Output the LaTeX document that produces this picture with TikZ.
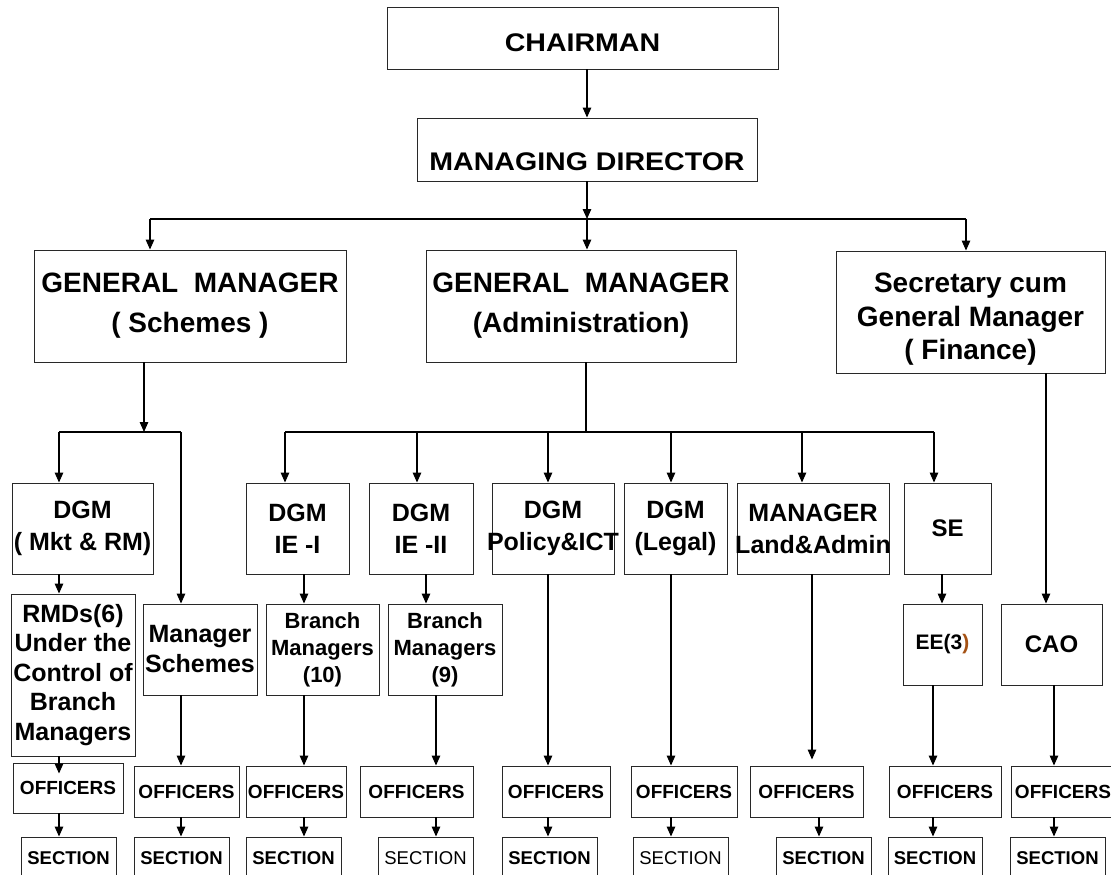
\documentclass[tikz,border=0pt]{standalone}
\usepackage{fontspec}
\setmainfont{Liberation Sans}
\newfontfamily\topfont{Liberation Sans}[FakeStretch=1.12]
\usetikzlibrary{arrows.meta}
\definecolor{eebrown}{RGB}{165,82,20}
\definecolor{boxgray}{RGB}{40,40,40}
\begin{document}
\begin{tikzpicture}[x=1pt,y=-1pt,
  box/.style={draw=boxgray, line width=0.9pt, inner sep=1pt, align=center, anchor=center},
  topf/.style={font=\topfont\bfseries\fontsize{25.5}{30}\selectfont},
  gmf/.style={font=\bfseries\fontsize{28}{40}\selectfont},
  secf/.style={font=\bfseries\fontsize{28}{33.5}\selectfont},
  dgmf/.style={font=\bfseries\fontsize{25}{32}\selectfont},
  rmdf/.style={font=\bfseries\fontsize{25}{29.5}\selectfont},
  mschf/.style={font=\bfseries\fontsize{25}{30}\selectfont},
  bmf/.style={font=\bfseries\fontsize{22}{27}\selectfont},
  offf/.style={font=\bfseries\fontsize{19}{22}\selectfont},
  sectf/.style={font=\bfseries\fontsize{18.5}{22}\selectfont},
  sectr/.style={font=\fontsize{18.5}{22}\selectfont},
  conn/.style={line width=1.3pt},
  arr/.style={conn, -{Triangle[length=10pt,width=8.5pt]}},
  dgmbox/.style={box, dgmf, minimum height=91pt},
  offbox/.style={box, offf, minimum height=51pt},
  sectbox/.style={box, minimum height=42pt},
]
\useasboundingbox (0,0) rectangle (1111,875);
\clip (0,0) rectangle (1111,875);

% top
\node[box, topf, minimum width=391pt, minimum height=62pt, text height=26.3pt, text depth=0pt] (chair) at (582.5,38) {CHAIRMAN};
\node[box, topf, minimum width=340pt, minimum height=63pt, text height=42pt, text depth=0pt] (md) at (587,149.5) {MANAGING DIRECTOR};

% general managers
\node[box, gmf, minimum width=312pt, minimum height=112pt] (gms) at (190,306) {GENERAL\ \ MANAGER\\(\ Schemes\ )};
\node[box, gmf, minimum width=310pt, minimum height=112pt] (gma) at (581,306) {GENERAL\ \ MANAGER\\(Administration)};
\node[box, secf, minimum width=269pt, minimum height=122pt] (sec) at (970.5,312) {\rule{0pt}{34pt}Secretary cum\\General Manager\\(\ Finance)};

% DGM level
\node[dgmbox, minimum width=141pt] (dgm1) at (82.5,528.5) {DGM\\(\ Mkt \& RM)};
\node[dgmbox, minimum width=103pt] (dgm2) at (297.5,528.5) {DGM\\IE -I};
\node[dgmbox, minimum width=104pt] (dgm3) at (421,528.5) {DGM\\IE -II};
\node[dgmbox, minimum width=122pt] (dgm4) at (553,528.5) {DGM\\\makebox[110pt][c]{Policy\&ICT}};
\node[dgmbox, minimum width=103pt] (dgm5) at (675.5,528.5) {DGM\\(Legal)};
\node[dgmbox, minimum width=152pt] (mgr) at (813,528.5) {MANAGER\\\makebox[140pt][c]{Land\&Admin}};
\node[dgmbox, minimum width=87pt, font=\bfseries\fontsize{24}{30}\selectfont] (se) at (947.5,528.5) {SE};

% third level
\node[box, rmdf, minimum width=124pt, minimum height=162pt] (rmd) at (73,675) {RMDs(6)\\Under the\\Control of\\Branch\\Managers};
\node[box, mschf, minimum width=114pt, minimum height=91pt] (msch) at (200,649.5) {Manager\\Schemes};
\node[box, bmf, minimum width=113pt, minimum height=91pt] (bm10) at (322.5,649.5) {Branch\\Managers\\(10)};
\node[box, bmf, minimum width=114pt, minimum height=91pt] (bm9) at (445,649.5) {Branch\\Managers\\(9)};
\node[box, font=\bfseries\fontsize{21}{25}\selectfont, minimum width=79pt, minimum height=81pt] (ee) at (942.5,644.5) {EE(3{\color{eebrown})}};
\node[box, font=\bfseries\fontsize{24}{28}\selectfont, minimum width=101pt, minimum height=81pt] (cao) at (1051.5,644.5) {CAO};

% officers
\node[offbox, minimum width=110pt, minimum height=50pt] (o1) at (68,788) {OFFICERS};
\node[offbox, minimum width=105pt] (o2) at (186.5,791.5) {OFFICERS};
\node[offbox, minimum width=100pt] (o3) at (296,791.5) {OFFICERS};
\node[offbox, minimum width=113pt] (o4) at (416.5,791.5) {OFFICERS};
\node[offbox, minimum width=108pt] (o5) at (556,791.5) {OFFICERS};
\node[offbox, minimum width=106pt] (o6) at (684,791.5) {OFFICERS};
\node[offbox, minimum width=113pt] (o7) at (806.5,791.5) {OFFICERS};
\node[offbox, minimum width=112pt] (o8) at (945,791.5) {OFFICERS};
\node[offbox, minimum width=104pt] (o9) at (1063,791.5) {OFFICERS};

% sections
\node[sectbox, sectf, minimum width=95pt] (s1) at (68.5,858) {SECTION};
\node[sectbox, sectf, minimum width=95pt] (s2) at (181.5,858) {SECTION};
\node[sectbox, sectf, minimum width=95pt] (s3) at (293.5,858) {SECTION};
\node[sectbox, sectr, minimum width=95pt] (s4) at (425.5,858) {SECTION};
\node[sectbox, sectf, minimum width=95pt] (s5) at (549.5,858) {SECTION};
\node[sectbox, sectr, minimum width=95pt] (s6) at (680.5,858) {SECTION};
\node[sectbox, sectf, minimum width=95pt] (s7) at (823.5,858) {SECTION};
\node[sectbox, sectf, minimum width=94pt] (s8) at (935,858) {SECTION};
\node[sectbox, sectf, minimum width=95pt] (s9) at (1057.5,858) {SECTION};

% upper connectors
\draw[arr] (md.north |- chair.south) -- (md.north);
\coordinate (b1) at (587,219);
\coordinate (b1L) at (150,219);
\coordinate (b1R) at (966,219);
\draw[arr] (md.south) -- (b1);
\draw[conn] (b1L) -- (b1R);
\draw[arr] (b1L) -- (b1L |- gms.north);
\draw[arr] (b1) -- (b1 |- gma.north);
\draw[arr] (b1R) -- (b1R |- sec.north);

% schemes branch
\coordinate (b2) at (144,432);
\coordinate (b2L) at (59,432);
\coordinate (b2R) at (181,432);
\draw[arr] (b2 |- gms.south) -- (b2);
\draw[conn] (b2L) -- (b2R);
\draw[arr] (b2L) -- (b2L |- dgm1.north);
\draw[arr] (b2R) -- (b2R |- msch.north);

% administration branch
\coordinate (b3) at (586,432);
\coordinate (b3L) at (285,432);
\coordinate (b3R) at (934,432);
\coordinate (a3) at (417,432);
\coordinate (a4) at (548,432);
\coordinate (a5) at (671,432);
\coordinate (a6) at (802,432);
\draw[conn] (b3 |- gma.south) -- (b3);
\draw[conn] (b3L) -- (b3R);
\draw[arr] (b3L) -- (b3L |- dgm2.north);
\draw[arr] (a3) -- (a3 |- dgm3.north);
\draw[arr] (a4) -- (a4 |- dgm4.north);
\draw[arr] (a5) -- (a5 |- dgm5.north);
\draw[arr] (a6) -- (a6 |- mgr.north);
\draw[arr] (b3R) -- (b3R |- se.north);

% finance branch
\coordinate (sx) at (1046,0);
\draw[arr] (sx |- sec.south) -- (sx |- cao.north);

% lower columns
\coordinate (k1) at (59,0);
\coordinate (k2) at (181,0);
\coordinate (k3) at (304,0);
\coordinate (k4a) at (426,0);
\coordinate (k4) at (436,0);
\coordinate (k5) at (548,0);
\coordinate (k6) at (671,0);
\coordinate (k7a) at (812,0);
\coordinate (k7) at (819,0);
\coordinate (k8a) at (942,0);
\coordinate (k8) at (933,0);
\coordinate (k9) at (1054,0);

\draw[arr] (k1 |- dgm1.south) -- (k1 |- rmd.north);
\draw[arr, shorten >=-11pt] (k1 |- rmd.south) -- (k1 |- o1.north);
\draw[arr] (k1 |- o1.south) -- (k1 |- s1.north);

\draw[arr] (k2 |- msch.south) -- (k2 |- o2.north);
\draw[arr] (k2 |- o2.south) -- (k2 |- s2.north);

\draw[arr] (k3 |- dgm2.south) -- (k3 |- bm10.north);
\draw[arr] (k3 |- bm10.south) -- (k3 |- o3.north);
\draw[arr] (k3 |- o3.south) -- (k3 |- s3.north);

\draw[arr] (k4a |- dgm3.south) -- (k4a |- bm9.north);
\draw[arr] (k4 |- bm9.south) -- (k4 |- o4.north);
\draw[arr] (k4 |- o4.south) -- (k4 |- s4.north);

\draw[arr] (k5 |- dgm4.south) -- (k5 |- o5.north);
\draw[arr] (k5 |- o5.south) -- (k5 |- s5.north);

\draw[arr] (k6 |- dgm5.south) -- (k6 |- o6.north);
\draw[arr] (k6 |- o6.south) -- (k6 |- s6.north);

\draw[arr, shorten >=6pt] (k7a |- mgr.south) -- (k7a |- o7.north);
\draw[arr] (k7 |- o7.south) -- (k7 |- s7.north);

\draw[arr] (k8a |- se.south) -- (k8a |- ee.north);
\draw[arr] (k8 |- ee.south) -- (k8 |- o8.north);
\draw[arr] (k8 |- o8.south) -- (k8 |- s8.north);

\draw[arr] (k9 |- cao.south) -- (k9 |- o9.north);
\draw[arr] (k9 |- o9.south) -- (k9 |- s9.north);
\end{tikzpicture}
\end{document}
